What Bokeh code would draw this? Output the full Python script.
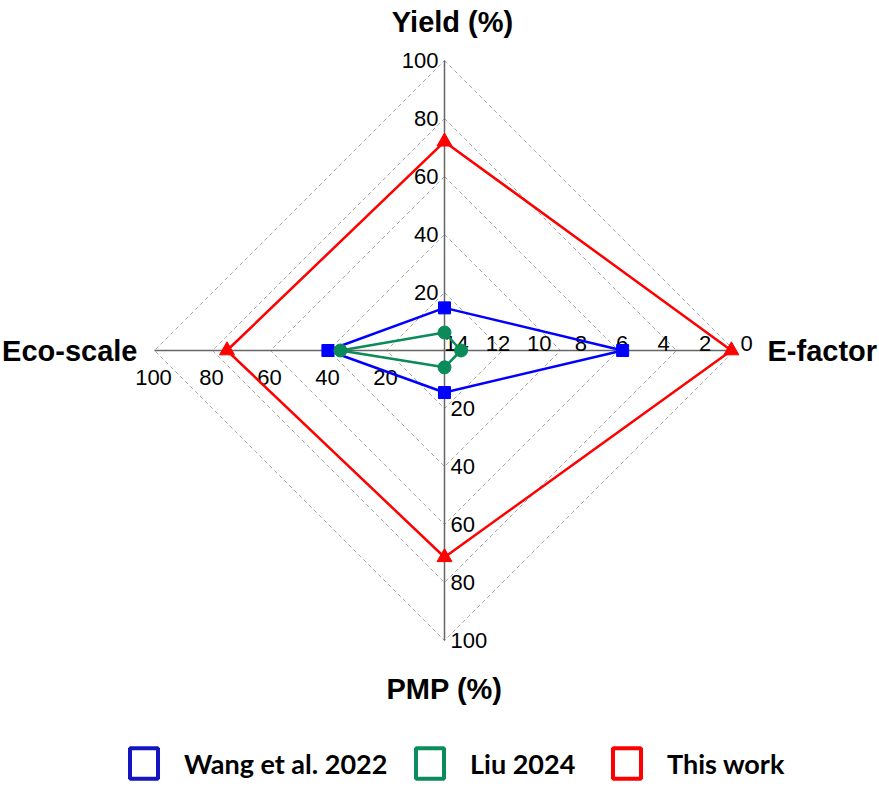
import numpy as np
from bokeh.plotting import figure
from bokeh.models import Range1d, Legend, LegendItem, ColumnDataSource
from bokeh.core.properties import value
from bokeh.embed import file_html
from bokeh.resources import INLINE

# ---------------- data ----------------
axis_names = ["Yield (%)", "E-factor", "PMP (%)", "Eco-scale"]
series_names = ["Wang et al. 2022", "Liu 2024", "This work"]
wang = [14.7, 5.4, 14.5, 40.2]       # Yield, E-factor, PMP, Eco-scale
liu = [6.2, 13.2, 5.8, 35.9]
this_work = [72.0, 0.15, 71.3, 75.0]
yield_ticks = [20, 40, 60, 80, 100]
efactor_ticks = [14, 12, 10, 8, 6, 4, 2, 0]
pmp_ticks = [20, 40, 60, 80, 100]
eco_ticks = [20, 40, 60, 80, 100]
grid_levels = [20, 40, 60, 80, 100]
EF_MAX = 14
PCT_MAX = 100

# ---------------- layout ----------------
W, H = 879, 788
CX, CY = 444, 350      # centre in frame pixels (from left / top)
R = 290                # pixels per unit radius

p = figure(width=W, height=H, output_backend="svg", toolbar_location=None,
           x_range=Range1d(-CX / R, (W - CX) / R),
           y_range=Range1d(-(H - CY) / R, CY / R),
           x_axis_location=None, y_axis_location=None, min_border=0)
p.grid.visible = False
p.outline_line_color = None
p.background_fill_color = "white"

dirs = [(0, 1), (1, 0), (0, -1), (-1, 0)]


def normalise(vals):
    return [vals[0] / PCT_MAX, (EF_MAX - vals[1]) / EF_MAX,
            vals[2] / PCT_MAX, vals[3] / PCT_MAX]


def to_xy(vals):
    r = normalise(vals)
    xs = [ri * d[0] for ri, d in zip(r, dirs)]
    ys = [ri * d[1] for ri, d in zip(r, dirs)]
    return xs, ys


# grid diamonds
gx, gy = [], []
for g in grid_levels:
    r = g / PCT_MAX
    gx.append([0, r, 0, -r, 0])
    gy.append([r, 0, -r, 0, r])
p.multi_line(gx, gy, line_color="#a8a8a8", line_width=1, line_dash="4 3")

# axis spokes
p.multi_line([[0, d[0]] for d in dirs], [[0, d[1]] for d in dirs],
             line_color="#666666", line_width=1.5)

FONT = value("Liberation Sans")
TICK_SIZE = value("22px")

# tick labels
p.text(x=[0] * len(yield_ticks), y=[t / PCT_MAX for t in yield_ticks],
       text=[str(t) for t in yield_ticks], x_offset=-6,
       text_align="right", text_baseline="middle", text_font=FONT,
       text_font_size=TICK_SIZE, text_color="black")
p.text(x=[(EF_MAX - t) / EF_MAX for t in efactor_ticks], y=[0] * len(efactor_ticks),
       text=[str(t) for t in efactor_ticks], x_offset=12, y_offset=-7,
       text_align="center", text_baseline="alphabetic", text_font=FONT,
       text_font_size=TICK_SIZE, text_color="black")
p.text(x=[0] * len(pmp_ticks), y=[-t / PCT_MAX for t in pmp_ticks],
       text=[str(t) for t in pmp_ticks], x_offset=6,
       text_align="left", text_baseline="middle", text_font=FONT,
       text_font_size=TICK_SIZE, text_color="black")
p.text(x=[-t / PCT_MAX for t in eco_ticks], y=[0] * len(eco_ticks),
       text=[str(t) for t in eco_ticks], x_offset=-1, y_offset=27,
       text_align="center", text_baseline="alphabetic", text_font=FONT,
       text_font_size=TICK_SIZE, text_color="black")

# axis titles
TITLE_SIZE = value("29px")
p.text(x=[0], y=[1], text=[axis_names[0]], x_offset=8, y_offset=-39,
       text_align="center", text_baseline="middle", text_font=FONT,
       text_font_style="bold", text_font_size=TITLE_SIZE)
p.text(x=[1], y=[0], text=[axis_names[1]], x_offset=33, y_offset=0,
       text_align="left", text_baseline="middle", text_font=FONT,
       text_font_style="bold", text_font_size=TITLE_SIZE)
p.text(x=[0], y=[-1], text=[axis_names[2]], x_offset=0, y_offset=48,
       text_align="center", text_baseline="middle", text_font=FONT,
       text_font_style="bold", text_font_size=TITLE_SIZE)
p.text(x=[-1], y=[0], text=[axis_names[3]], x_offset=-17, y_offset=0,
       text_align="right", text_baseline="middle", text_font=FONT,
       text_font_style="bold", text_font_size=TITLE_SIZE)

# series
line_colors = ["#0000ff", "#0b8a5a", "#ff0000"]
legend_colors = ["#1414c0", "#0b8c5c", "#ff0000"]
markers = ["square", "circle", "triangle"]
marker_sizes = [12, 13, 15]
for vals, col, mk, ms in zip([wang, liu, this_work], line_colors, markers, marker_sizes):
    xs, ys = to_xy(vals)
    p.line(xs + xs[:1], ys + ys[:1], line_color=col, line_width=2.5)
    p.scatter(xs, ys, marker=mk, size=ms, fill_color=col, line_color=col)

# legend (three single-item legends placed side by side)
legend_x = [126, 412, 609]
off_view = 50  # dummy glyph lies far outside the visible ranges
for name, col, lx in zip(series_names, legend_colors, legend_x):
    dummy = p.rect(x=[off_view], y=[off_view], width=[0.01], height=[0.01],
                   fill_color=None, line_color=col, line_width=4)
    leg = Legend(items=[LegendItem(label=name, renderers=[dummy])],
                 location=(lx, 6), orientation="horizontal",
                 padding=0, margin=0, spacing=0,
                 glyph_width=35, glyph_height=38, label_height=38,
                 label_standoff=23,
                 label_text_font="Lato", label_text_font_style="bold",
                 label_text_font_size="27px", label_text_baseline="middle",
                 label_text_color="black",
                 background_fill_alpha=0, border_line_alpha=0)
    p.add_layout(leg)

open("out.html", "w").write(file_html(p, INLINE))
